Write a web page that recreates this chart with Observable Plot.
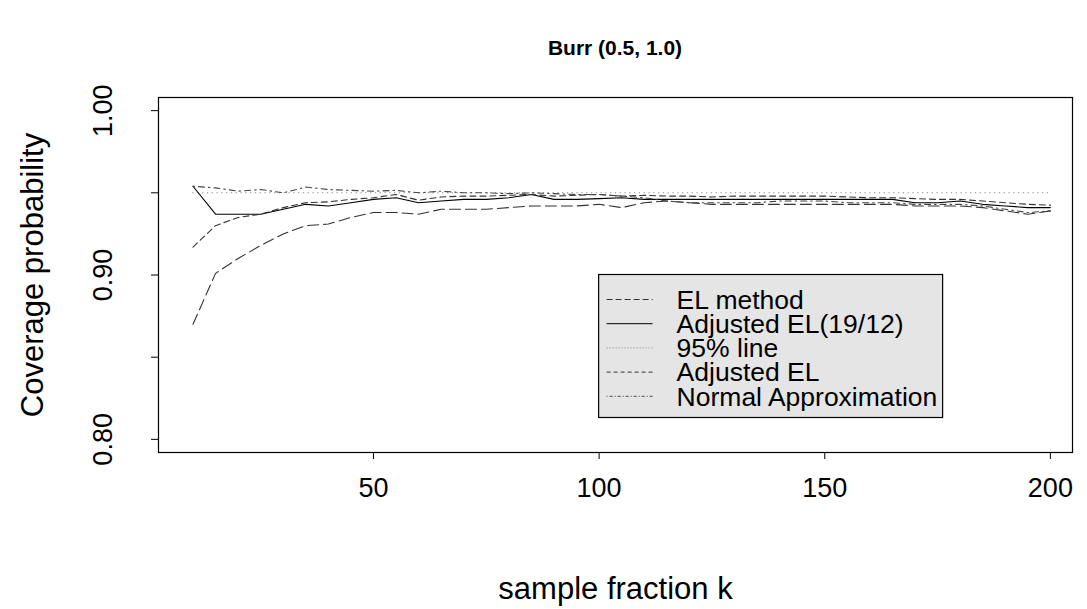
<!DOCTYPE html>
<html><head><meta charset="utf-8">
<script src="https://cdn.jsdelivr.net/npm/d3@7"></script>
<script src="https://cdn.jsdelivr.net/npm/@observablehq/plot@0.6"></script>
<style>
body{margin:0;background:#fff;font-family:"Liberation Sans",Arial,Helvetica,sans-serif;}
#chart{position:relative;width:1087px;height:609px;}
#title{position:absolute;left:158px;width:914px;top:35px;text-align:center;font-weight:bold;font-size:21px;line-height:26px;}
</style></head><body><div id="chart"><div id="title"></div></div>
<script>
const title = "Burr (0.5, 1.0)";
const xLabel = "sample fraction k";
const yLabel = "Coverage probability";
const k = [10,15,20,25,30,35,40,45,50,55,60,65,70,75,80,85,90,95,100,105,110,115,120,125,130,135,140,145,150,155,160,165,170,175,180,185,190,195,200];
const elMethod = [0.870,0.901,0.910,0.918,0.925,0.930,0.931,0.935,0.938,0.938,0.937,0.940,0.940,0.940,0.941,0.942,0.942,0.942,0.943,0.941,0.944,0.945,0.944,0.943,0.943,0.943,0.943,0.943,0.943,0.943,0.943,0.943,0.942,0.942,0.942,0.941,0.939,0.937,0.939];
const adjustedEL1912 = [0.954,0.937,0.937,0.937,0.940,0.943,0.942,0.944,0.946,0.947,0.944,0.945,0.946,0.946,0.947,0.949,0.946,0.946,0.9465,0.947,0.946,0.946,0.946,0.946,0.946,0.946,0.946,0.946,0.946,0.946,0.946,0.946,0.944,0.944,0.945,0.943,0.942,0.941,0.941];
const adjustedEL = [0.917,0.930,0.935,0.937,0.941,0.944,0.9445,0.946,0.947,0.949,0.9455,0.9475,0.948,0.948,0.9485,0.949,0.948,0.9485,0.949,0.948,0.9485,0.948,0.948,0.9475,0.948,0.948,0.948,0.948,0.948,0.9475,0.947,0.947,0.9465,0.946,0.946,0.945,0.944,0.943,0.9425];
const normalApprox = [0.954,0.953,0.951,0.952,0.950,0.9535,0.952,0.9515,0.951,0.9515,0.950,0.951,0.950,0.950,0.9495,0.950,0.9495,0.949,0.949,0.948,0.947,0.945,0.944,0.944,0.944,0.944,0.945,0.945,0.945,0.944,0.944,0.944,0.943,0.943,0.943,0.942,0.940,0.938,0.939];
const line95 = 0.95;
const xTicks = [50,100,150,200];
const yTicks = [0.80,0.85,0.90,0.95,1.00];
const yTickLabels = [0.80,0.90,1.00];
const legendNames = ["EL method","Adjusted EL(19/12)","95% line","Adjusted EL","Normal Approximation"];
const legendAt = {x: 100, y: 0.90};

const styles = {
  "EL method": {stroke:"#333", dash:"11,5", legendDash:"6,3"},
  "Adjusted EL(19/12)": {stroke:"#000", dash:null, legendDash:null},
  "95% line": {stroke:"#888", dash:"1.2,3.6", legendDash:"1,2"},
  "Adjusted EL": {stroke:"#333", dash:"6,4", legendDash:"4,3"},
  "Normal Approximation": {stroke:"#444", dash:"1.5,4,6,4", legendDash:"1,2,3,2"}
};
const seriesList = [
  ["EL method", elMethod],
  ["Adjusted EL(19/12)", adjustedEL1912],
  ["Adjusted EL", adjustedEL],
  ["Normal Approximation", normalApprox]
];
const lineMarks = seriesList.map(([name, vals]) =>
  Plot.line(k.map((x,i)=>({x, y: vals[i]})), {x:"x", y:"y", stroke: styles[name].stroke, strokeWidth: 1.1, strokeDasharray: styles[name].dash || undefined})
);

const W = 1087, H = 609;
const chart = Plot.plot({
  width: W, height: H,
  marginLeft: 158, marginRight: 15, marginTop: 97, marginBottom: 157,
  style: {fontFamily: '"Liberation Sans", Arial, Helvetica, sans-serif', background: "#fff", overflow: "visible"},
  x: {domain: [2.36, 204.9]},
  y: {domain: [0.792, 1.008]},
  marks: [
    Plot.ruleY([line95], {x1: k[0], x2: k[k.length-1], stroke: styles["95% line"].stroke, strokeWidth: 1.1, strokeDasharray: styles["95% line"].dash}),
    ...lineMarks,
    Plot.frame({stroke: "#000", strokeWidth: 1.2}),
    Plot.axisX(xTicks, {tickSize: 7, tickPadding: 18, fontSize: 27, stroke: "#000", color: "#000", label: null}),
    Plot.axisY(yTicks, {tickSize: 7, tickFormat: () => "", stroke: "#000", label: null}),
    Plot.text(yTickLabels, {y: d => d, frameAnchor: "left", textAnchor: "middle", lineAnchor: "middle", dx: -55, rotate: -90, text: d => d.toFixed(2), fontSize: 27, fill: "#000"}),
    Plot.text([xLabel], {frameAnchor: "bottom", textAnchor: "middle", lineAnchor: "middle", dy: 137, text: d => d, fontSize: 31, fill: "#000"}),
    Plot.text([yLabel], {frameAnchor: "left", textAnchor: "middle", lineAnchor: "middle", dx: -125, rotate: -90, text: d => d, fontSize: 31, fill: "#000"})
  ]
});
document.getElementById("chart").appendChild(chart);
document.getElementById("title").textContent = title;

// Legend placed in data coordinates (like R's legend(x, y, ...))
const sx = chart.scale("x"), sy = chart.scale("y");
const X = d3.scaleLinear(sx.domain, sx.range), Y = d3.scaleLinear(sy.domain, sy.range);
const lx = X(legendAt.x), ly = Y(legendAt.y);
const bw = 344, rowH = 24.2, bh = 143;
const svg = d3.select(chart);
const g = svg.append("g");
g.append("rect").attr("x", lx).attr("y", ly).attr("width", bw).attr("height", bh)
  .attr("fill", "#e5e5e5").attr("stroke", "#000").attr("stroke-width", 1.2);
legendNames.forEach((name, i) => {
  const cy = ly + 25 + i * rowH;
  const st = styles[name];
  g.append("line").attr("x1", lx + 8).attr("x2", lx + 54).attr("y1", cy).attr("y2", cy)
    .attr("stroke", st.stroke).attr("stroke-width", 1).attr("stroke-dasharray", st.legendDash);
  g.append("text").attr("x", lx + 78).attr("y", cy).attr("dy", "0.35em")
    .attr("text-anchor", "start").attr("font-size", 26.5).attr("fill", "#000").text(name);
});
</script></body></html>
